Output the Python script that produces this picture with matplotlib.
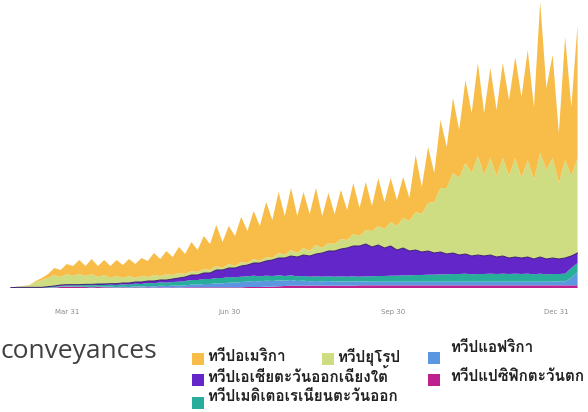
import numpy as np
import pandas as pd
import matplotlib
matplotlib.use('Agg')
import matplotlib.pyplot as plt
import matplotlib.dates as mdates
from matplotlib import font_manager
from matplotlib.patches import Rectangle
from fontTools.ttLib import TTFont

# new cases per day (thousands), read off the picture twice a week:
# low day, then high day of every week
dates = pd.date_range('2020-02-28 06:00', periods=92, freq='84h')

americas = [0, 0, 0, 1, 3, 6, 12, 21, 21, 30, 30, 42, 30, 45, 33, 45, 36, 48, 39, 51,
            42, 54, 48, 66, 51, 69, 54, 78, 60, 87, 66, 99, 78, 123, 78, 114, 90, 135,
            96, 144, 105, 165, 114, 183, 117, 186, 111, 168, 111, 171, 96, 150, 90, 147,
            90, 153, 84, 144, 75, 144, 81, 132, 78, 123, 69, 171, 81, 168, 87, 204,
            123, 225, 144, 249, 180, 279, 186, 270, 198, 285, 228, 303, 243, 330,
            219, 453, 246, 309, 150, 369, 207, 399]
europe = [1, 2, 4, 6, 16, 22, 26, 33, 24, 32, 26, 32, 25, 31, 21, 27, 17, 23, 15, 21,
          12, 18, 12, 18, 12, 18, 12, 15, 9, 12, 9, 12, 9, 12, 6, 12, 6, 12,
          6, 12, 6, 12, 6, 15, 9, 18, 12, 21, 15, 27, 15, 24, 21, 30,
          24, 36, 30, 42, 48, 57, 57, 72, 72, 90, 90, 114, 114, 144, 153, 192,
          198, 240, 231, 273, 249, 297, 243, 291, 243, 294, 246, 297, 240, 291,
          237, 312, 267, 300, 228, 294, 240, 285]
se_asia = [0, 0, 0, 0, 0, 0, 1, 2, 2, 2, 2, 2, 2, 3, 3, 3, 3, 4, 4, 5,
           5, 6, 6, 7, 7, 8, 9, 11, 12, 15, 15, 18, 18, 24, 24, 27, 28, 32,
           34, 38, 40, 44, 48, 52, 54, 58, 58, 63, 62, 67, 71, 76, 77, 82,
           86, 91, 92, 97, 88, 93, 84, 89, 77, 82, 73, 75, 69, 71, 65, 67,
           61, 63, 57, 59, 55, 57, 54, 56, 51, 53, 48, 50, 48, 50,
           46, 50, 46, 48, 45, 47, 36, 30]
e_med = [0, 1, 1, 1, 1, 1, 2, 2, 3, 3, 4, 4, 5, 5, 5, 5, 6, 6, 7, 7,
         8, 8, 9, 9, 10, 10, 11, 12, 13, 14, 14, 15, 15, 16, 16, 17, 16, 16,
         16, 16, 15, 15, 15, 15, 14, 14, 14, 14, 14, 14, 14, 14, 15, 15,
         15, 15, 15, 15, 16, 17, 17, 18, 18, 19, 19, 20, 20, 21, 21, 22,
         22, 23, 23, 24, 22, 23, 23, 24, 23, 24, 23, 24, 23, 24,
         22, 24, 22, 23, 22, 23, 30, 27]
africa = [0, 0, 0, 0, 0, 0, 0, 1, 1, 1, 1, 1, 1, 1, 1, 2, 2, 2, 2, 2,
          3, 3, 4, 4, 5, 5, 5, 6, 6, 8, 8, 10, 10, 12, 12, 14, 14, 16,
          16, 18, 17, 18, 17, 18, 16, 17, 14, 15, 13, 14, 13, 14, 12, 13,
          12, 13, 11, 12, 11, 11, 11, 11, 11, 11, 11, 11, 11, 11, 11, 11,
          11, 11, 11, 11, 11, 11, 11, 11, 11, 11, 11, 11, 11, 11,
          11, 11, 11, 11, 12, 12, 22, 40]
w_pacific = [1, 1, 1, 1, 1, 1, 1, 1, 3, 4, 3, 3, 3, 2, 3, 2, 2, 1, 2, 1,
             2, 1, 2, 1, 2, 1, 2, 1, 2, 2, 2, 2, 2, 2, 2, 2, 2, 2,
             3, 3, 3, 4, 4, 5, 6, 7, 7, 7, 7, 7, 7, 7, 7, 7,
             7, 7, 8, 8, 8, 8, 8, 8, 8, 8, 8, 8, 8, 8, 8, 8,
             8, 8, 8, 8, 8, 8, 8, 8, 8, 8, 8, 8, 8, 8,
             8, 8, 8, 8, 8, 8, 8, 8]

names = ['ทวีปอเมริกา', 'ทวีปยุโรป', 'ทวีปแอฟริกา',
         'ทวีปเอเชียตะวันออกเฉียงใต้', 'ทวีปแปซิฟิกตะวันตก', 'ทวีปเมดิเตอเรเนียนตะวันออก']
tick_dates = ['2020-03-31', '2020-06-30', '2020-09-30', '2020-12-31']

c_amer, c_euro, c_afr = '#f8bd48', '#cfdd82', '#5b97e0'
c_sea, c_wp, c_emed = '#6327c9', '#be2090', '#27ad99'


def find_thai_font():
    for f in font_manager.fontManager.ttflist:
        try:
            tt = TTFont(f.fname, fontNumber=0, lazy=True)
            cmap = tt.getBestCmap()
            if cmap and 0x0E17 in cmap:
                return f.name
        except Exception:
            pass
    return 'DejaVu Sans'


thai_font = find_thai_font()

W, H = 588, 412
fig = plt.figure(figsize=(W / 100, H / 100), dpi=100)
ax = fig.add_axes([8 / W, 1 - 288 / H, 570 / W, 288 / H])

layers = [w_pacific, africa, e_med, se_asia, europe, americas]
ax.stackplot(dates, *layers, colors=[c_wp, c_afr, c_emed, c_sea, c_euro, c_amer], lw=0)
purple_top = np.sum(layers[:4], axis=0)
ax.plot(dates, purple_top, color='#3c1c73', lw=0.7)

ax.set_xlim(pd.Timestamp('2020-02-26 17:00'), pd.Timestamp('2021-01-12 00:00'))
ax.set_ylim(0, 864)
ax.set_xticks(pd.to_datetime(tick_dates))
ax.xaxis.set_major_formatter(mdates.DateFormatter('%b %d'))
ax.tick_params(axis='x', length=0, pad=15, labelsize=5, labelcolor='#8a8a8a')
ax.set_yticks([])
for s in ax.spines.values():
    s.set_visible(False)


def fx(x):
    return x / W


def fy(y):
    return 1 - y / H


fig.text(fx(0), fy(358), 'conveyances', fontsize=19, color='#404040',
         family='Open Sans', va='baseline', ha='left')

# legend laid out like the source (squares x, y top; text x, y centre)
items = [
    (names[0], c_amer, 192, 353, 207, 357),
    (names[1], c_euro, 322, 353, 337, 357),
    (names[2], c_afr, 428, 352, 450, 348),
    (names[3], c_sea, 192, 374, 207, 377),
    (names[4], c_wp, 428, 374, 450, 377),
    (names[5], c_emed, 192, 397, 207, 397),
]
for label, col, sx, sy, tx, ty in items:
    fig.add_artist(Rectangle((fx(sx), fy(sy + 12)), 12 / W, 12 / H,
                             transform=fig.transFigure, color=col, lw=0))
    fig.text(fx(tx), fy(ty), label, fontsize=11, fontweight='bold', color='#222222',
             family=[thai_font, 'DejaVu Sans'], va='center', ha='left')

fig.savefig('out.png', dpi=100)
